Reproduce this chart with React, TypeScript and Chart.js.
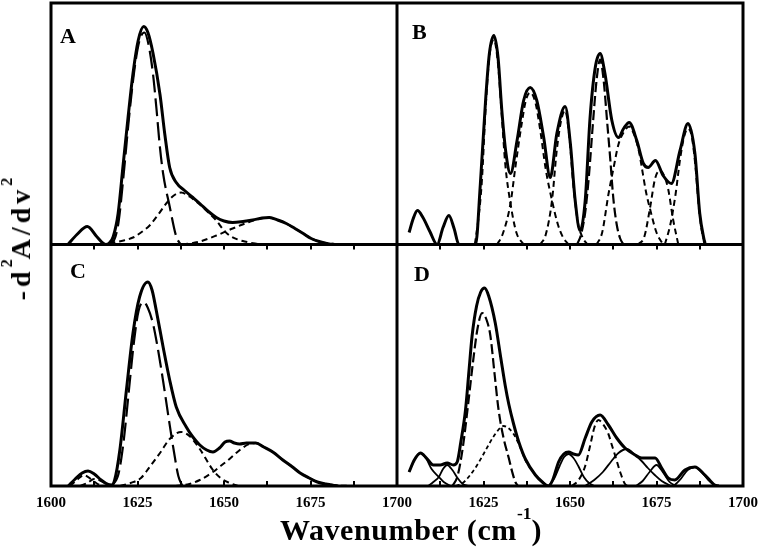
import React, { useEffect, useRef } from "react";
import { Chart, registerables } from "chart.js";

Chart.register(...registerables);

type Pt = [number, number];

// ---------- axis values ----------
const WN_MIN = 1600;
const WN_MAX = 1700;
const WN_TICK_STEP = 12.5;
const WN_LABEL_STEP = 25;
const Y_MAX = 241.5; // arbitrary units (second-derivative intensity)
const PANEL_LABELS = ["A", "B", "C", "D"];

// ---------- Panel A ----------
const A_TOTAL: Pt[] = [
  [1604.9, 0], [1607.5, 10], [1610.5, 18], [1613.2, 8], [1615.8, 0], [1617, 2], [1618, 8],
  [1619.4, 31], [1620.8, 78], [1622.3, 128], [1623.7, 171], [1625.2, 204], [1626.8, 218],
  [1628, 212], [1629.5, 191], [1631.5, 150], [1632.9, 110], [1634.3, 77], [1636.2, 62],
  [1638.6, 54], [1641, 47], [1643, 41], [1645.5, 33], [1647.8, 27], [1650, 23.5],
  [1652.5, 22], [1655.5, 23], [1658.3, 24.5], [1661, 26.5], [1663.1, 27], [1665.5, 24.5],
  [1668, 21], [1670.5, 16], [1672.9, 11], [1675.2, 6], [1677.5, 3], [1680.4, 0.5], [1682, 0],
];
const A_BAND1: Pt[] = [
  [1616, 0], [1618, 3], [1619.5, 22], [1621, 70], [1622.5, 125], [1624, 172], [1625.5, 203],
  [1627, 212], [1628.3, 198], [1629.5, 170], [1630.5, 135], [1631.4, 100], [1632.4, 71],
  [1634.3, 38], [1636.2, 8], [1637.5, 0],
];
const A_BAND2: Pt[] = [
  [1614, 0], [1618, 2], [1621, 4], [1623.7, 7], [1626, 12], [1628.5, 19], [1631, 30],
  [1633.3, 41], [1635.5, 49], [1637.6, 52], [1640, 48], [1643, 40], [1645.5, 32],
  [1647.8, 24], [1650, 14], [1651.6, 9], [1654, 5], [1656, 3], [1659, 1], [1662, 0],
];
const A_BAND3: Pt[] = [
  [1635, 0], [1640, 1], [1643, 3], [1647.8, 9], [1652.5, 16], [1657.3, 22.5], [1660, 25.5],
  [1663, 27], [1665.5, 24.5], [1668, 21], [1670.5, 16], [1672.9, 11], [1675.2, 6],
  [1677.5, 3], [1680.4, 1], [1684, 0], [1690, 0],
];

// ---------- Panel B ----------
const B_TOTAL: Pt[] = [
  [1603.5, 12], [1604.7, 26], [1605.9, 34], [1607.5, 27], [1609.5, 13], [1611.6, 0],
  [1613.3, 17], [1615, 29], [1616.5, 16], [1617.9, 0], [1622.7, 0], [1624.1, 61],
  [1625.6, 144], [1626.7, 191], [1628, 209], [1629.2, 187], [1630.3, 134], [1631.5, 91],
  [1632.8, 71], [1634.7, 104], [1636.6, 144], [1638.5, 157], [1640.4, 144], [1642.4, 107],
  [1644.3, 67], [1646.2, 111], [1648.6, 138], [1650.1, 101], [1651.5, 44], [1652.9, 14],
  [1654.4, 44], [1655.8, 127], [1657.3, 177], [1658.7, 191], [1660.1, 171], [1662.1, 124],
  [1664, 107], [1665.5, 116], [1667.1, 122], [1669.3, 104], [1671.2, 81], [1672.6, 77],
  [1674.7, 84], [1676.9, 69], [1679.3, 61], [1681.8, 94], [1684.1, 121], [1686.1, 91],
  [1687.5, 31], [1689, 0],
];
const B_BAND1: Pt[] = [
  [1622.5, 0], [1623.5, 25], [1624.5, 62], [1625.6, 135], [1626.7, 188], [1628, 205],
  [1629.2, 180], [1630.3, 128], [1631.3, 80], [1632.8, 41], [1634.5, 12], [1636.6, 0],
];
const B_BAND2: Pt[] = [
  [1628.9, 0], [1630.5, 10], [1632.8, 41], [1634.2, 77], [1636, 120], [1637.3, 145],
  [1638.5, 152], [1640, 142], [1641.5, 112], [1643, 75], [1644.8, 44], [1646.5, 20],
  [1648, 7], [1649.6, 0],
];
const B_BAND3: Pt[] = [
  [1641.4, 0], [1643, 10], [1644.8, 44], [1646.2, 95], [1647.5, 125], [1648.6, 134],
  [1649.8, 108], [1651, 58], [1652.3, 22], [1653.5, 8], [1655, 0],
];
const B_BAND4: Pt[] = [
  [1652, 0], [1653.2, 10], [1654.5, 35], [1655.5, 70], [1656.6, 120], [1657.7, 165],
  [1658.7, 185], [1659.7, 165], [1660.8, 120], [1661.6, 87], [1662.5, 47], [1663.5, 20],
  [1664.5, 6], [1665.5, 0],
];
const B_BAND5: Pt[] = [
  [1657.7, 0], [1659.3, 12], [1661.1, 50], [1662.5, 75], [1664, 100], [1665.5, 112],
  [1667.1, 118], [1668.5, 110], [1670, 92], [1670.7, 78], [1672, 52], [1673.1, 36],
  [1675, 12], [1676.9, 0],
];
const B_BAND6: Pt[] = [
  [1669.7, 0], [1671.5, 8], [1673.1, 36], [1674.6, 66], [1676, 74], [1677.3, 68],
  [1678.4, 55], [1679.8, 25], [1681.3, 0],
];
const B_BAND7: Pt[] = [
  [1677.4, 0], [1679, 20], [1680.5, 50], [1681.8, 85], [1683, 108], [1684.1, 116],
  [1685.2, 108], [1686.2, 80], [1687.3, 35], [1688.3, 10], [1689.5, 0],
];

// ---------- Panel C ----------
const C_TOTAL: Pt[] = [
  [1605, 0], [1607, 7], [1609, 13], [1610.7, 15], [1612.5, 12], [1614.5, 6], [1616.5, 1.5],
  [1617.5, 1], [1618.4, 6], [1619.9, 36], [1621.8, 96], [1623.7, 153], [1625.6, 189],
  [1628, 204], [1629.2, 196], [1630.4, 176], [1632.4, 139], [1634.3, 106], [1636.2, 79],
  [1639.1, 59], [1641, 49], [1643, 41], [1645, 36], [1646.8, 34], [1648.7, 38],
  [1650.3, 44], [1651.6, 45], [1653, 43], [1654.5, 42], [1656.5, 43], [1659.2, 43],
  [1661.5, 39], [1664.1, 34], [1667, 26], [1669.8, 19], [1672, 13], [1674.6, 8], [1677, 4],
  [1679.4, 2], [1683, 0],
];
const C_BAND0A: Pt[] = [[1605.5, 0], [1607.5, 6], [1609.5, 11], [1611.5, 7], [1613.5, 2], [1615, 0]];
const C_BAND0B: Pt[] = [[1608.5, 0], [1610.5, 3], [1612.5, 7], [1614.5, 5], [1616.5, 1], [1618, 0]];
const C_BAND1: Pt[] = [
  [1617.5, 0], [1619.5, 12], [1621, 45], [1622.5, 95], [1624, 145], [1625.3, 175],
  [1626.7, 184], [1628, 178], [1629.5, 162], [1631, 135], [1632.4, 105], [1634, 68],
  [1635.5, 35], [1636.8, 10], [1638, 0],
];
const C_BAND2: Pt[] = [
  [1620, 0], [1623, 3], [1626, 8], [1628.5, 19], [1631.5, 33], [1634.3, 47], [1637.6, 54],
  [1640, 50], [1643, 37], [1646.8, 16], [1649, 8], [1651.6, 3], [1654, 0],
];
const C_BAND3: Pt[] = [
  [1636, 0], [1640, 2], [1643, 6], [1646.8, 14], [1649, 20], [1651.6, 27], [1653.5, 33],
  [1655.3, 38], [1657.3, 42], [1659.2, 43], [1661.5, 39], [1664.1, 34], [1667, 26],
  [1669.8, 19], [1672, 13], [1674.6, 8], [1677, 4], [1679.4, 2], [1683, 0.5], [1688, 0],
];

// ---------- Panel D ----------
const D_TOTAL: Pt[] = [
  [1603.5, 14], [1605, 26], [1606.8, 33], [1608.5, 28], [1610.5, 21], [1612.5, 21],
  [1614.5, 23], [1616.3, 21], [1617.4, 24], [1618.4, 43], [1619.8, 76], [1620.8, 115],
  [1621.7, 150], [1623, 180], [1624.2, 194], [1625.3, 198], [1626.5, 190], [1628.4, 163],
  [1630, 128], [1631.3, 100], [1632.3, 82], [1633.7, 62], [1635.2, 44], [1637.1, 27],
  [1640, 11], [1642, 4], [1643.8, 0], [1645, 6], [1646.7, 24], [1648.2, 32], [1649.6, 34],
  [1651, 32], [1652.4, 31], [1654.4, 48], [1656.3, 64], [1658.7, 71], [1661.1, 61],
  [1663.5, 48], [1665.9, 38], [1668.8, 31], [1670.7, 28], [1672.5, 28], [1674.6, 28],
  [1676.5, 18], [1678.4, 8], [1680.3, 6], [1683.2, 16], [1686.1, 19], [1689, 11],
  [1691.8, 1], [1693, 0],
];
const D_BANDS1: Pt[] = [
  [1603.5, 14], [1605, 26], [1606.8, 33], [1608.5, 27], [1610, 17], [1612.1, 9], [1613.5, 4], [1615.5, 0],
];
const D_BANDS2: Pt[] = [
  [1609, 0], [1610.5, 4], [1612.1, 9], [1613.3, 17], [1614.5, 21], [1616, 16], [1617.5, 8], [1619, 2], [1620.5, 0],
];
const D_BAND1: Pt[] = [
  [1616, 0], [1617.5, 10], [1619, 38], [1620.5, 80], [1622, 125], [1623.3, 158], [1624.6, 173],
  [1626, 165], [1627, 150], [1628.2, 112], [1629.4, 75], [1630.8, 48], [1632.3, 28],
  [1633.3, 14], [1634.2, 4], [1635, 0],
];
const D_BAND2: Pt[] = [
  [1617, 0], [1619, 3], [1620.7, 9], [1623, 20], [1625.5, 35], [1628, 50], [1630.8, 60],
  [1632.5, 57], [1633.7, 52], [1635.2, 42], [1637.1, 26], [1640, 11], [1642, 4], [1643.8, 0],
];
const D_BAND3: Pt[] = [
  [1643.8, 0], [1645.5, 8], [1647, 20], [1648.3, 29], [1649.6, 32], [1651, 28], [1652.4, 20],
  [1654, 9], [1655.5, 3], [1657, 0],
];
const D_BAND4: Pt[] = [
  [1650.5, 0], [1652.5, 6], [1654.4, 20], [1655.8, 40], [1657, 58], [1658.2, 66], [1659.5, 62],
  [1661.1, 52], [1662, 42], [1663, 31], [1664.5, 14], [1665.9, 2], [1667, 0],
];
const D_BAND5: Pt[] = [
  [1654.4, 0], [1657, 6], [1659.5, 14], [1662, 25], [1664, 33], [1666.4, 37], [1668.8, 31],
  [1670.7, 25], [1672.5, 18], [1674.5, 11], [1676.5, 5], [1679.3, 0],
];
const D_BAND6: Pt[] = [[1669, 0], [1671, 5], [1673, 14], [1675, 21], [1677, 13], [1678.8, 4], [1680.5, 0]];
const D_BAND7: Pt[] = [[1680, 0], [1682, 7], [1684, 16], [1686.1, 19], [1688, 14], [1690, 6], [1692, 0]];

// ---------- styles ----------
const LONG = [18, 6];
const MED = [10, 4];
const SHORT = [6, 4];
const FINE = [4, 3];
const NONE: number[] = [];

type Band = { pts: Pt[]; dash: number[]; width: number };
type Panel = { x: string; y: string; total: Pt[]; bands: Band[] };

const PANELS: Panel[] = [
  {
    x: "xL", y: "yT", total: A_TOTAL,
    bands: [
      { pts: A_BAND1, dash: LONG, width: 2.2 },
      { pts: A_BAND2, dash: SHORT, width: 2 },
      { pts: A_BAND3, dash: SHORT, width: 2 },
    ],
  },
  {
    x: "xR", y: "yT", total: B_TOTAL,
    bands: [
      { pts: B_BAND1, dash: SHORT, width: 2 },
      { pts: B_BAND2, dash: SHORT, width: 2 },
      { pts: B_BAND3, dash: SHORT, width: 2 },
      { pts: B_BAND4, dash: MED, width: 2.2 },
      { pts: B_BAND5, dash: SHORT, width: 2 },
      { pts: B_BAND6, dash: SHORT, width: 2 },
      { pts: B_BAND7, dash: SHORT, width: 2 },
    ],
  },
  {
    x: "xL", y: "yB", total: C_TOTAL,
    bands: [
      { pts: C_BAND0A, dash: SHORT, width: 2 },
      { pts: C_BAND0B, dash: SHORT, width: 2 },
      { pts: C_BAND1, dash: LONG, width: 2.2 },
      { pts: C_BAND2, dash: SHORT, width: 2 },
      { pts: C_BAND3, dash: SHORT, width: 2 },
    ],
  },
  {
    x: "xR", y: "yB", total: D_TOTAL,
    bands: [
      { pts: D_BANDS1, dash: NONE, width: 1.8 },
      { pts: D_BANDS2, dash: NONE, width: 1.8 },
      { pts: D_BAND1, dash: MED, width: 2.2 },
      { pts: D_BAND2, dash: FINE, width: 1.8 },
      { pts: D_BAND3, dash: NONE, width: 1.8 },
      { pts: D_BAND4, dash: SHORT, width: 2 },
      { pts: D_BAND5, dash: NONE, width: 1.8 },
      { pts: D_BAND6, dash: NONE, width: 1.8 },
      { pts: D_BAND7, dash: NONE, width: 1.8 },
    ],
  },
];

const SERIF = '"Liberation Serif", "Times New Roman", Times, serif';

function makeLine(pts: Pt[], x: string, y: string, width: number, dash: number[], order: number) {
  return {
    data: pts.map(([wx, v]) => ({ x: wx, y: v })),
    xAxisID: x,
    yAxisID: y,
    borderColor: "#000",
    backgroundColor: "#000",
    borderWidth: width,
    borderDash: dash,
    borderCapStyle: "butt",
    borderJoinStyle: "round",
    pointRadius: 0,
    pointHoverRadius: 0,
    fill: false,
    cubicInterpolationMode: "monotone",
    order,
  };
}

const framePlugin = {
  id: "frame",
  afterDatasetsDraw(chart: any) {
    const { ctx, chartArea: a, scales } = chart;
    const xL = scales.xL, xR = scales.xR, yT = scales.yT, yB = scales.yB;
    ctx.save();
    ctx.strokeStyle = "#000";
    ctx.lineWidth = 3;
    ctx.strokeRect(a.left, a.top, a.right - a.left, a.bottom - a.top);
    ctx.beginPath();
    ctx.moveTo(xL.right, a.top);
    ctx.lineTo(xL.right, a.bottom);
    ctx.moveTo(a.left, yT.bottom);
    ctx.lineTo(a.right, yT.bottom);
    ctx.stroke();
    // inward tick marks
    ctx.lineWidth = 2;
    ctx.beginPath();
    for (const s of [xL, xR]) {
      for (const t of s.ticks) {
        if (t.value <= s.min || t.value >= s.max) continue;
        const px = Math.round(s.getPixelForValue(t.value));
        ctx.moveTo(px, a.bottom);
        ctx.lineTo(px, a.bottom - 5);
        ctx.moveTo(px, yT.bottom);
        ctx.lineTo(px, yT.bottom + 5);
      }
    }
    ctx.stroke();
    // panel letters
    ctx.fillStyle = "#000";
    ctx.font = `bold 22px ${SERIF}`;
    ctx.textBaseline = "alphabetic";
    ctx.textAlign = "left";
    const spots = [
      [xL.left + 9, yT.top + 40],
      [xR.left + 15, yT.top + 36],
      [xL.left + 19, yB.top + 33],
      [xR.left + 17, yB.top + 36],
    ];
    PANEL_LABELS.forEach((lab, i) => ctx.fillText(lab, spots[i][0], spots[i][1]));
    ctx.restore();
  },
};

function xScale(weight: number, hideFirst: boolean) {
  return {
    type: "linear",
    position: "bottom",
    stack: "wn",
    stackWeight: 1,
    weight,
    min: WN_MIN,
    max: WN_MAX,
    grid: { display: false, drawTicks: false },
    border: { display: false },
    afterFit: (s: any) => {
      s.height = 71;
    },
    ticks: {
      stepSize: WN_TICK_STEP,
      autoSkip: false,
      maxRotation: 0,
      padding: 8,
      color: "#000",
      font: { family: SERIF, size: 15, weight: "bold" },
      callback: (v: number) => {
        if (v % WN_LABEL_STEP !== 0) return "";
        if (hideFirst && v === WN_MIN) return "";
        return String(v);
      },
    },
  };
}

function yScale(weight: number) {
  return {
    type: "linear",
    position: "left",
    stack: "amp",
    stackWeight: 1,
    weight,
    min: 0,
    max: Y_MAX,
    display: false,
  };
}

export default function App() {
  const ref = useRef<HTMLCanvasElement>(null);
  useEffect(() => {
    const datasets: any[] = [];
    PANELS.forEach((p) => {
      datasets.push(makeLine(p.total, p.x, p.y, 3, NONE, 0));
      p.bands.forEach((b) => datasets.push(makeLine(b.pts, p.x, p.y, b.width, b.dash, 1)));
    });
    const chart = new Chart(ref.current as HTMLCanvasElement, {
      type: "line",
      data: { datasets },
      options: {
        animation: false,
        responsive: false,
        devicePixelRatio: 1,
        events: [],
        layout: { padding: { left: 51, right: 21, top: 3, bottom: 0 } },
        plugins: { legend: { display: false }, tooltip: { enabled: false }, title: { display: false } },
        scales: {
          xL: xScale(0, false),
          xR: xScale(1, true),
          yT: yScale(1),
          yB: yScale(0),
        } as any,
      },
      plugins: [framePlugin],
    } as any);
    return () => chart.destroy();
  }, []);

  const supStyle: React.CSSProperties = {
    fontSize: "0.58em",
    verticalAlign: "baseline",
    position: "relative",
    top: "-1.2em",
    lineHeight: 0,
    letterSpacing: 0,
  };

  return (
    <div style={{ position: "absolute", left: 0, top: 0, width: 766, height: 557, background: "#fff", overflow: "hidden" }}>
      <canvas ref={ref} width={766} height={557} style={{ position: "absolute", left: 0, top: 0, width: 766, height: 557 }} />
      <div
        style={{
          position: "absolute",
          left: 21,
          top: 239,
          transform: "translate(-50%, -50%) rotate(-90deg)",
          fontFamily: SERIF,
          fontWeight: "bold",
          fontSize: 28,
          lineHeight: "28px",
          letterSpacing: "4px",
          whiteSpace: "nowrap",
          color: "#000",
        }}
      >
        -d<sup style={{ ...supStyle, top: "-1.1em" }}>2</sup>A/dv<sup style={{ ...supStyle, top: "-1.1em" }}>2</sup>
      </div>
      <div
        style={{
          position: "absolute",
          left: 411,
          top: 515,
          transform: "translateX(-50%)",
          fontFamily: SERIF,
          fontWeight: "bold",
          fontSize: 30,
          lineHeight: "30px",
          letterSpacing: "0.6px",
          whiteSpace: "nowrap",
          color: "#000",
        }}
      >
        Wavenumber (cm<sup style={supStyle}>-1</sup>)
      </div>
    </div>
  );
}
